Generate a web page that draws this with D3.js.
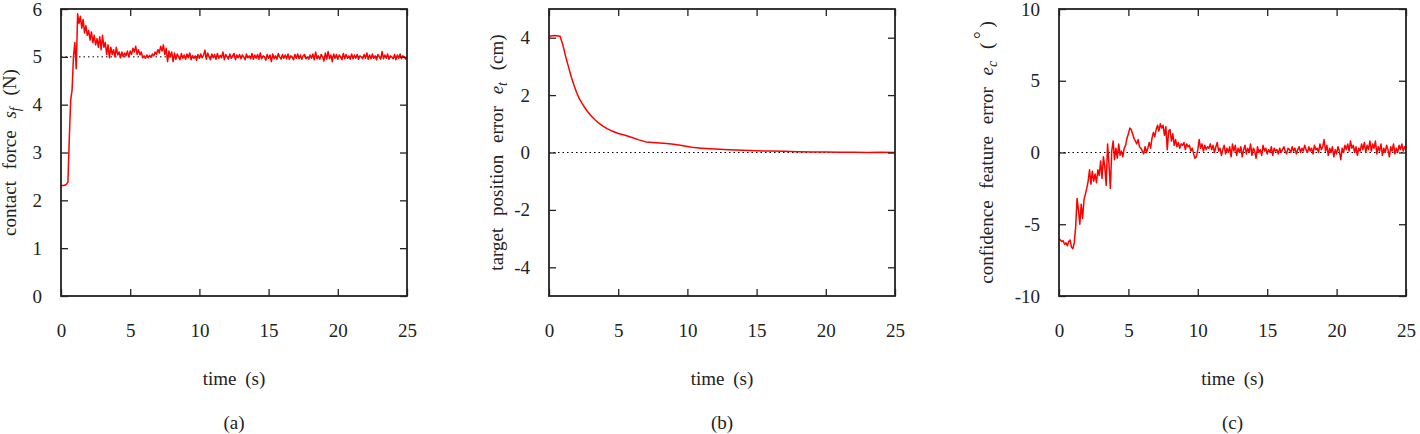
<!DOCTYPE html>
<html>
<head>
<meta charset="utf-8">
<script src="https://cdn.jsdelivr.net/npm/d3@7"></script>
<style>
  html, body { margin: 0; padding: 0; background: #fff; }
  svg { display: block; }
  text { font-family: "Liberation Serif", "DejaVu Serif", serif; fill: #222; }
</style>
</head>
<body>
<svg id="chart" width="1420" height="434"></svg>
<script>
// ---------- data ----------
const timeTicks = [0, 5, 10, 15, 20, 25];
const forceTicks = [0, 1, 2, 3, 4, 5, 6];
const posTicks = [-4, -2, 0, 2, 4];
const confTicks = [-10, -5, 0, 5, 10];

const sampleStep = 0.1; // seconds between samples of forceValues / confValues

const forceValues = [
  2.30, 2.31, 2.31, 2.32, 2.34, 2.38, 3.30, 4.10, 4.30, 5.00,
  5.30, 4.75, 5.90, 5.70, 5.85, 5.60, 5.78, 5.50, 5.65, 5.45,
  5.55, 5.35, 5.52, 5.30, 5.45, 5.25, 5.38, 5.20, 5.42, 5.15,
  5.45, 5.20, 5.30, 5.05, 5.25, 4.98, 5.20, 5.05, 5.15, 5.00,
  5.20, 5.04, 5.10, 4.98, 5.10, 5.00, 5.08, 5.02, 5.12, 5.00,
  5.12, 5.05, 5.18, 5.10, 5.22, 5.05, 5.15, 5.04, 5.10, 4.98,
  5.02, 4.97, 5.04, 4.98, 5.03, 4.99, 5.06, 5.02, 5.10, 5.05,
  5.15, 5.08, 5.22, 5.12, 5.25, 5.05, 5.18, 4.90, 5.12, 5.00,
  5.10, 4.90, 5.08, 4.95, 5.06, 5.00, 4.94, 5.07, 4.97, 5.04,
  4.95, 5.06, 4.98, 5.08, 4.94, 5.03, 4.97, 5.02, 4.93, 5.05,
  4.97, 5.06, 4.98, 5.03, 5.14, 4.95, 5.08, 5.00, 4.94, 5.06,
  4.98, 5.05, 4.95, 5.07, 4.97, 5.03, 4.98, 5.10, 4.94, 5.05,
  5.00, 4.95, 5.06, 4.97, 5.02, 5.07, 4.94, 5.04, 4.98, 5.05,
  4.96, 5.04, 5.00, 4.94, 5.06, 4.98, 5.02, 4.96, 5.07, 4.95,
  5.04, 4.97, 5.05, 4.95, 5.08, 4.96, 5.02, 5.00, 4.93, 5.05,
  4.97, 5.04, 4.90, 5.06, 4.96, 5.02, 4.95, 5.07, 5.00, 4.95,
  5.05, 4.97, 5.04, 4.96, 5.06, 4.95, 5.02, 5.00, 4.94, 5.05,
  4.97, 5.06, 4.96, 5.04, 4.95, 5.02, 5.05, 4.96, 5.00, 4.95,
  5.04, 4.97, 5.06, 4.94, 5.10, 4.96, 5.02, 4.95, 5.05, 5.00,
  4.91, 5.08, 4.95, 5.11, 4.96, 5.04, 4.90, 5.06, 4.97, 5.05,
  4.95, 5.04, 5.00, 4.94, 5.07, 4.96, 5.05, 4.97, 5.02, 4.95,
  5.06, 4.96, 5.04, 4.97, 5.05, 4.95, 5.02, 5.00, 4.96, 5.05,
  4.97, 5.08, 4.95, 5.04, 4.96, 5.06, 4.97, 5.02, 4.94, 5.05,
  5.00, 4.95, 5.11, 4.96, 5.04, 4.97, 5.06, 4.95, 5.02, 5.00,
  4.96, 5.05, 4.94, 5.04, 4.97, 5.06, 4.96, 5.02, 5.00, 4.95,
  5.00
];
const forceTarget = 5;

const posTimes = [0, 0.4, 0.8, 1.0, 1.2, 1.4, 1.6, 1.8, 2.0, 2.2, 2.4, 2.6, 2.8, 3.0, 3.3, 3.6, 3.9, 4.2, 4.5,
  5.0, 5.5, 6.0, 6.5, 7.0, 7.5, 8.0, 8.5, 9.0, 9.5, 10.0, 10.5, 11, 12, 13, 14, 15, 16, 17, 18, 19, 20, 21, 22, 23, 24, 25];
const posValues = [4.05, 4.08, 4.05, 3.75, 3.35, 3.00, 2.65, 2.35, 2.08, 1.87, 1.70, 1.55, 1.42, 1.30, 1.15, 1.02, 0.92, 0.83, 0.76,
  0.66, 0.60, 0.52, 0.44, 0.37, 0.35, 0.33, 0.31, 0.29, 0.25, 0.21, 0.17, 0.15, 0.12, 0.10, 0.08, 0.06, 0.05, 0.04, 0.03, 0.02, 0.02, 0.01, 0.01, 0.00, 0.01, 0.00];
const posTarget = 0;

const confValues = [
  -6.0, -6.1, -6.2, -6.15, -6.4, -6.3, -6.5, -6.2, -6.1, -6.6,
  -6.7, -6.3, -5.2, -3.2, -4.0, -5.0, -3.6, -4.6, -3.3, -2.9,
  -2.5, -2.0, -1.2, -2.2, -1.3, -2.0, -1.5, -2.1, -1.2, -1.6,
  -0.6, -1.8, -0.3, -1.0, -2.3, 0.6, -0.8, -2.5, 0.1, 0.8,
  -0.5, 0.3, -0.4, 0.6, -0.2, 0.1, -0.3, 0.3, 0.5, 1.0,
  1.3, 1.7, 1.6, 1.3, 1.0, 0.8, 0.6, 0.9, 0.4, 0.3,
  0.1, -0.1, 0.4, 0.0, 0.3, 0.7, 0.3, 1.0, 1.4, 1.1,
  1.6, 1.9, 1.5, 2.0, 1.7, 1.9, 1.2, 1.8, 0.2, 1.5,
  1.6, 0.8, 1.3, 0.5, 0.9, 0.4, 0.7, 0.3, 0.6, 0.5,
  0.7, 0.2, 0.6, 0.4, 0.5, 0.1, 0.3, -0.1, -0.4, -0.3,
  0.2, 0.9, 0.3, 0.6, 0.1, 0.5, 0.2, 0.4, 0.3, 0.6,
  0.2, 0.5, 0.0, 0.4, 0.7, 0.1, 0.3, -0.2, 0.2, 0.5,
  -0.1, 0.3, 0.0, 0.4, -0.3, 0.6, 0.1, 0.5, -0.2, 0.3,
  0.0, 0.4, -0.3, 0.2, 0.5, -0.1, 0.3, 0.0, 0.6, -0.2,
  0.3, 0.1, -0.4, 0.4, 0.0, 0.2, -0.2, 0.5, 0.1, 0.3,
  -0.1, 0.2, 0.0, 0.4, -0.2, 0.3, 0.1, 0.2, -0.1, 0.3,
  0.0, 0.2, 0.4, 0.1, -0.1, 0.3, 0.2, 0.0, 0.4, 0.1,
  0.3, -0.1, 0.2, 0.4, 0.0, 0.3, 0.1, 0.5, 0.2, 0.0,
  0.4, 0.1, 0.3, -0.1, 0.5, 0.2, 0.3, 0.0, 0.6, 0.2,
  0.4, 0.9, 0.1, 0.5, -0.2, 0.3, 0.0, 0.4, -0.3, 0.2,
  -0.1, 0.4, 0.1, -0.5, 0.3, 0.0, 0.5, 0.2, 0.6, 0.1,
  0.8, 0.3, 0.5, 0.0, 0.4, -0.2, 0.3, 0.1, 0.6, 0.2,
  0.7, 0.0, 0.5, 0.2, 0.8, 0.1, 0.6, 0.3, 0.8, -0.1,
  0.4, 0.1, 0.6, -0.2, 0.3, 0.0, 0.5, 0.2, -0.3, 0.4,
  0.1, 0.6, -0.1, 0.3, 0.0, 0.5, 0.2, 0.6, 0.1, 0.4,
  0.3
];
const confTarget = 0;

// ---------- drawing ----------
const svg = d3.select("#chart");
const FONT = 19;
const SERIF = "'Liberation Serif', 'DejaVu Serif', serif";
const fmt = v => String(v); // plain hyphen-minus, no decimals

function panel(opts) {
  const { left, right, pTop, pBottom, yDomain, yTicks, points, target, ylabel, ylabelOffset, caption } = opts;
  const x = d3.scaleLinear().domain([0, 25]).range([left, right]);
  const y = d3.scaleLinear().domain(yDomain).range([pBottom, pTop]);
  const g = svg.append("g");

  // target dotted line
  g.append("line")
    .attr("x1", x(0)).attr("x2", x(25))
    .attr("y1", y(target)).attr("y2", y(target))
    .attr("stroke", "#000").attr("stroke-width", 1)
    .attr("stroke-dasharray", "1.5,3");

  // data line
  const line = d3.line().x(d => x(d[0])).y(d => y(d[1]));
  g.append("path").datum(points)
    .attr("d", line)
    .attr("fill", "none")
    .attr("stroke", "#ff0000")
    .attr("stroke-width", 1.5)
    .attr("stroke-linejoin", "round");

  // axes with inward ticks
  const tickLen = 7;
  const ax = g.append("g").attr("transform", `translate(0,${pBottom})`)
    .call(d3.axisBottom(x).tickValues(timeTicks).tickSize(-tickLen).tickPadding(28).tickFormat(fmt));
  const axTop = g.append("g").attr("transform", `translate(0,${pTop})`)
    .call(d3.axisTop(x).tickValues(timeTicks).tickSize(-tickLen).tickFormat(""));
  const ay = g.append("g").attr("transform", `translate(${left},0)`)
    .call(d3.axisLeft(y).tickValues(yTicks).tickSize(-tickLen).tickPadding(19).tickFormat(fmt));
  const ayR = g.append("g").attr("transform", `translate(${right},0)`)
    .call(d3.axisRight(y).tickValues(yTicks).tickSize(-tickLen).tickFormat(""));
  [ax, axTop, ay, ayR].forEach(a => {
    a.attr("font-family", SERIF).attr("font-size", FONT);
    a.select(".domain").remove();
    a.selectAll(".tick line").attr("stroke", "#222").attr("stroke-width", 1.3);
    a.selectAll(".tick text").attr("fill", "#222");
  });

  // frame
  g.append("rect")
    .attr("x", left).attr("y", pTop)
    .attr("width", right - left).attr("height", pBottom - pTop)
    .attr("fill", "none").attr("stroke", "#222").attr("stroke-width", 1.8);

  const cx = (left + right) / 2;
  g.append("text")
    .attr("x", cx).attr("y", 385)
    .attr("text-anchor", "middle")
    .attr("font-family", SERIF)
    .attr("font-size", FONT)
    .style("word-spacing", "4px")
    .text("time (s)");

  g.append("text")
    .attr("x", cx).attr("y", 429)
    .attr("text-anchor", "middle")
    .attr("font-family", SERIF)
    .attr("font-size", FONT)
    .text(caption);

  // y label
  const yl = g.append("text")
    .attr("transform", `translate(${left - ylabelOffset},${(pTop + pBottom) / 2}) rotate(-90)`)
    .attr("text-anchor", "middle")
    .attr("font-family", SERIF)
    .attr("font-size", FONT)
    .style("word-spacing", "7px");
  ylabel.forEach(part => {
    const t = yl.append("tspan").text(part.t);
    if (part.i) t.attr("font-style", "italic");
    if (part.sub) t.attr("dy", 4).attr("font-size", 14).attr("font-style", "italic");
    if (part.up) t.attr("dy", -4);
    if (part.sup) t.attr("dy", -6);
    if (part.down) t.attr("dy", 6);
  });
}

const plotTop = 9, plotBottom = 296;

panel({
  left: 61, right: 407, pTop: plotTop, pBottom: plotBottom,
  yDomain: [0, 6], yTicks: forceTicks,
  points: forceValues.map((v, i) => [i * sampleStep, v]),
  target: forceTarget,
  ylabel: [{ t: "contact force " }, { t: "s", i: true }, { t: "f", sub: true }, { t: " (N)", up: true }],
  ylabelOffset: 45,
  caption: "(a)"
});

panel({
  left: 549, right: 895, pTop: plotTop, pBottom: plotBottom,
  yDomain: [-5, 5], yTicks: posTicks,
  points: posTimes.map((t, i) => [t, posValues[i]]),
  target: posTarget,
  ylabel: [{ t: "target position error " }, { t: "e", i: true }, { t: "t", sub: true }, { t: " (cm)", up: true }],
  ylabelOffset: 46,
  caption: "(b)"
});

panel({
  left: 1059, right: 1406, pTop: plotTop, pBottom: plotBottom,
  yDomain: [-10, 10], yTicks: confTicks,
  points: confValues.map((v, i) => [i * sampleStep, v]),
  target: confTarget,
  ylabel: [{ t: "confidence feature error " }, { t: "e", i: true }, { t: "c", sub: true }, { t: " (", up: true }, { t: "\u2009\u00B0\u2009", sup: true }, { t: ")", down: true }],
  ylabelOffset: 66,
  caption: "(c)"
});
</script>
</body>
</html>
